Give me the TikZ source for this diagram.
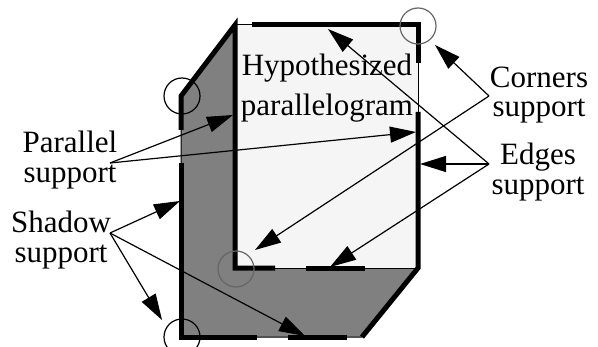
\documentclass[tikz,border=0pt]{standalone}
\usepackage{fontspec}
\setmainfont{Liberation Serif}
\usetikzlibrary{arrows.meta}
\definecolor{shadowgray}{HTML}{808080}
\definecolor{planegray}{HTML}{F5F5F5}
\definecolor{ringgray}{HTML}{666666}

\begin{document}
\begin{tikzpicture}[x=0.5pt,y=-0.5pt,
  label/.style={align=center,inner sep=0pt,font=\fontsize{15.5}{14.6}\selectfont},
  support/.style={line width=2.5pt},
  outline/.style={line width=0.5pt},
  pointer/.style={-{Triangle[length=13pt,width=8pt]},line width=0.6pt},
  ring/.style={line width=0.6pt}]
  \useasboundingbox (0,0) rectangle (598,347);
  % hypothesized parallelogram and its shadow
  \coordinate (tl) at (235,25);
  \coordinate (tr) at (418,25);
  \coordinate (br) at (418,268);
  \coordinate (bl) at (235,268);
  \coordinate (sl) at (181,96);
  \coordinate (sb) at (181,337);
  \coordinate (sr) at (362,337);
  \fill[shadowgray] (tl) -- (sl) -- (sb) -- (sr) -- (br) -- (bl) -- cycle;
  \fill[planegray] (tl) rectangle (br);
  \draw[outline] (tl) -- (tr) -- (br) -- (bl) -- cycle;
  \draw[outline] (tl) -- (sl) -- (sb) -- (sr) -- (br);
  % thick edge pieces
  \draw[support] (181,130) -- (sl) -- (tl) -- (bl) -- (275,268);
  \draw[support] (252,25) -- (tr) -- (418,63);
  \draw[support] (418,112) -- (br) -- (sr);
  \draw[support] (181,163) -- (sb) -- (257,337);
  \draw[support] (306,268) -- (365,268);
  \draw[support] (288,337) -- (347,337);
  % corner circles
  \draw[ring,ringgray] (418,26) circle[radius=9pt];
  \draw[ring,ringgray] (236,269) circle[radius=9pt];
  \draw[ring] (182,96) circle[radius=9pt];
  \draw[ring] (182,337) circle[radius=9pt];
  % labels
  \node[label,font=\fontsize{15.5}{20}\selectfont] (hyp) at (327,88)
    {Hypothesized\\parallelogram};
  \node[label] (corners) at (539,95) {Corners\\support};
  \node[label] (edges) at (538,172) {Edges\\support};
  \node[label] (parallel) at (70,160) {Parallel\\support};
  \node[label] (shadow) at (61,240) {Shadow\\support};
  % forks and arrow targets
  \coordinate (cfork) at (489,96);
  \coordinate (efork) at (489,164);
  \coordinate (pfork) at (110,163);
  \coordinate (sfork) at (110,233);
  \coordinate (c1) at (435,45);
  \coordinate (c2) at (255,250);
  \coordinate (e1) at (328,29);
  \coordinate (e2) at (420,164);
  \coordinate (e3) at (330,267);
  \coordinate (p1) at (233,115);
  \coordinate (p2) at (416,132);
  \coordinate (s1) at (180,201);
  \coordinate (s2) at (162,320);
  \coordinate (s3) at (305,336);
  \draw[pointer] (cfork) -- (c1);
  \draw[pointer] (cfork) -- (c2);
  \draw[pointer] (efork) -- (e1);
  \draw[pointer] (efork) -- (e2);
  \draw[pointer] (efork) -- (e3);
  \draw[pointer] (pfork) -- (p1);
  \draw[pointer] (pfork) -- (p2);
  \draw[pointer] (sfork) -- (s1);
  \draw[pointer] (sfork) -- (s2);
  \draw[pointer] (sfork) -- (s3);
\end{tikzpicture}
\end{document}
